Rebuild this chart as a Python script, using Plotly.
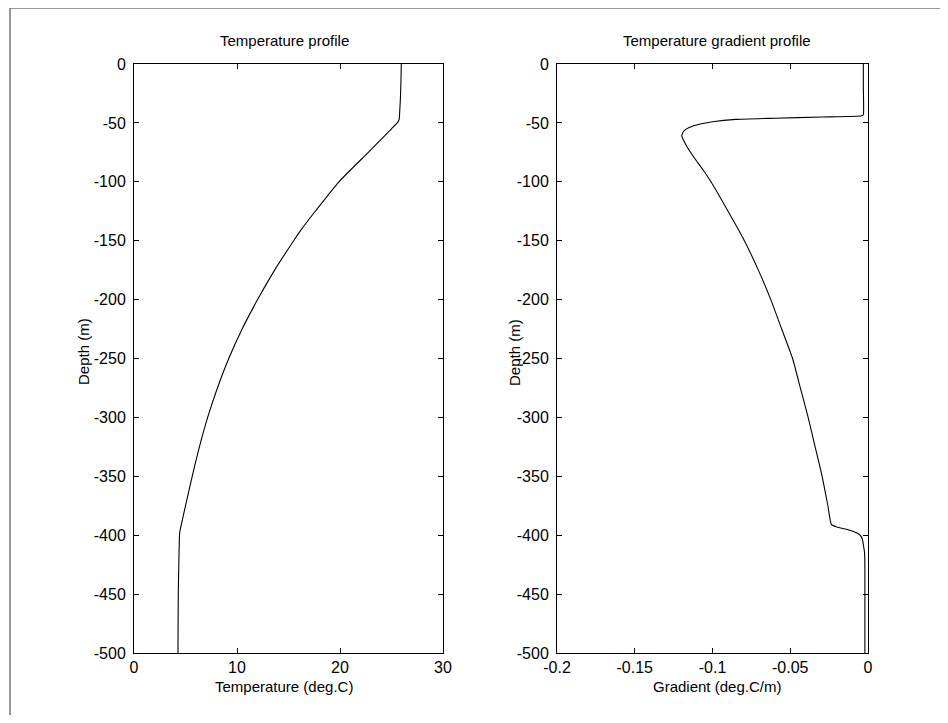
import plotly.graph_objects as go

# ---- data ----
temp_depth = [0, -10, -20, -30, -40, -46, -48, -50, -55, -60, -75, -100, -125, -141, -150, -175,
              -200, -225, -250, -275, -300, -325, -350, -375, -390, -396, -400, -425, -450, -475, -500]
temp_value = [25.95, 25.93, 25.9, 25.86, 25.8, 25.76, 25.7, 25.55, 25.0, 24.45, 22.75, 19.9, 17.6, 16.2, 15.5, 13.65,
              12.0, 10.5, 9.2, 8.1, 7.15, 6.35, 5.65, 5.0, 4.62, 4.47, 4.42, 4.35, 4.3, 4.28, 4.27]

grad_depth = [0, -20, -43, -44, -45, -46, -47, -49, -51, -54, -57, -61, -65, -70, -80, -90, -100, -125,
              -150, -175, -200, -225, -250, -275, -300, -325, -350, -375, -391, -393, -395, -397, -399,
              -401, -404, -408, -415, -430, -500]
grad_value = [-0.003, -0.003, -0.003, -0.004, -0.03, -0.06, -0.085, -0.100, -0.108, -0.115, -0.1185,
              -0.1198, -0.1185, -0.1165, -0.1115, -0.106, -0.101, -0.090, -0.0795, -0.0705, -0.0625,
              -0.0555, -0.0485, -0.0435, -0.0385, -0.034, -0.0295, -0.0258, -0.0235, -0.020, -0.014,
              -0.009, -0.006, -0.0045, -0.0035, -0.003, -0.0022, -0.002, -0.002]

depth_ticks = [0, -50, -100, -150, -200, -250, -300, -350, -400, -450, -500]
depth_labels = [str(v) for v in depth_ticks]
temp_ticks = [0, 10, 20, 30]
temp_labels = ["0", "10", "20", "30"]
grad_ticks = [-0.2, -0.15, -0.1, -0.05, 0]
grad_labels = ["-0.2", "-0.15", "-0.1", "-0.05", "0"]

titles = ["Temperature profile", "Temperature gradient profile"]
xlabels = ["Temperature (deg.C)", "Gradient (deg.C/m)"]
ylabel = "Depth (m)"

# ---- layout geometry (page pixels; the page body has an 8px margin) ----
OFF = 8
W, H = 948 - 2 * OFF, 723 - 2 * OFF
AX1_L, AX1_R, AX2_L, AX2_R, AX_T, AX_B = 134, 443, 557, 868, 64, 653
L = AX1_L - OFF
T = AX_T - OFF
R = W - (AX2_R - OFF)
B = H - (AX_B - OFF)
PW, PH = W - L - R, H - T - B


def px(x):
    return (x - OFF - L) / PW


def py(y):
    return (H - B - (y - OFF)) / PH


FONT = "Arial, Liberation Sans, sans-serif"

fig = go.Figure()
fig.add_trace(go.Scatter(x=temp_value, y=temp_depth, mode="lines",
                         line=dict(color="black", width=1.1, shape="spline", smoothing=0.6),
                         xaxis="x", yaxis="y", showlegend=False))
fig.add_trace(go.Scatter(x=grad_value, y=grad_depth, mode="lines",
                         line=dict(color="black", width=1.1, shape="spline", smoothing=0.5),
                         xaxis="x2", yaxis="y2", showlegend=False))

axis_common = dict(showgrid=False, zeroline=False, showline=True, linecolor="black",
                   linewidth=1, mirror="ticks", ticks="inside", ticklen=5, tickcolor="black",
                   tickfont=dict(family=FONT, size=16, color="black"), automargin=False)

fig.update_layout(
    width=W, height=H,
    margin=dict(l=L, r=R, t=T, b=B),
    paper_bgcolor="white", plot_bgcolor="white",
    showlegend=False,
    xaxis=dict(domain=[0, px(AX1_R)], range=[0, 30], tickvals=temp_ticks, ticktext=temp_labels,
               anchor="y", **axis_common),
    yaxis=dict(domain=[0, 1], range=[-500, 0], tickvals=depth_ticks, ticktext=depth_labels,
               anchor="x", ticklabelstandoff=4, **axis_common),
    xaxis2=dict(domain=[px(AX2_L), 1], range=[-0.2, 0], tickvals=grad_ticks, ticktext=grad_labels,
                anchor="y2", **axis_common),
    yaxis2=dict(domain=[0, 1], range=[-500, 0], tickvals=depth_ticks, ticktext=depth_labels,
                anchor="x2", ticklabelstandoff=4, **axis_common),
)

ann = []
txt = dict(family=FONT, size=15, color="black")
for cx, title, xl, ycx in [(284, titles[0], xlabels[0], 84), (717, titles[1], xlabels[1], 515)]:
    ann.append(dict(text=title, x=px(cx), y=py(41), xref="paper", yref="paper",
                    showarrow=False, font=txt, xanchor="center", yanchor="middle"))
    ann.append(dict(text=xl, x=px(cx), y=py(686), xref="paper", yref="paper",
                    showarrow=False, font=txt, xanchor="center", yanchor="middle"))
    ann.append(dict(text=ylabel, x=px(ycx), y=py(352), xref="paper", yref="paper",
                    showarrow=False, font=txt, textangle=-90, xanchor="center", yanchor="middle"))
fig.update_layout(annotations=ann)

# outer frame of the figure (top and left edges visible)
fig.add_shape(type="rect", xref="paper", yref="paper",
              x0=px(10), x1=px(948 + 20), y0=py(723 + 20), y1=py(8),
              line=dict(color="#333333", width=1), fillcolor="rgba(0,0,0,0)")

fig.write_html("out.html")
